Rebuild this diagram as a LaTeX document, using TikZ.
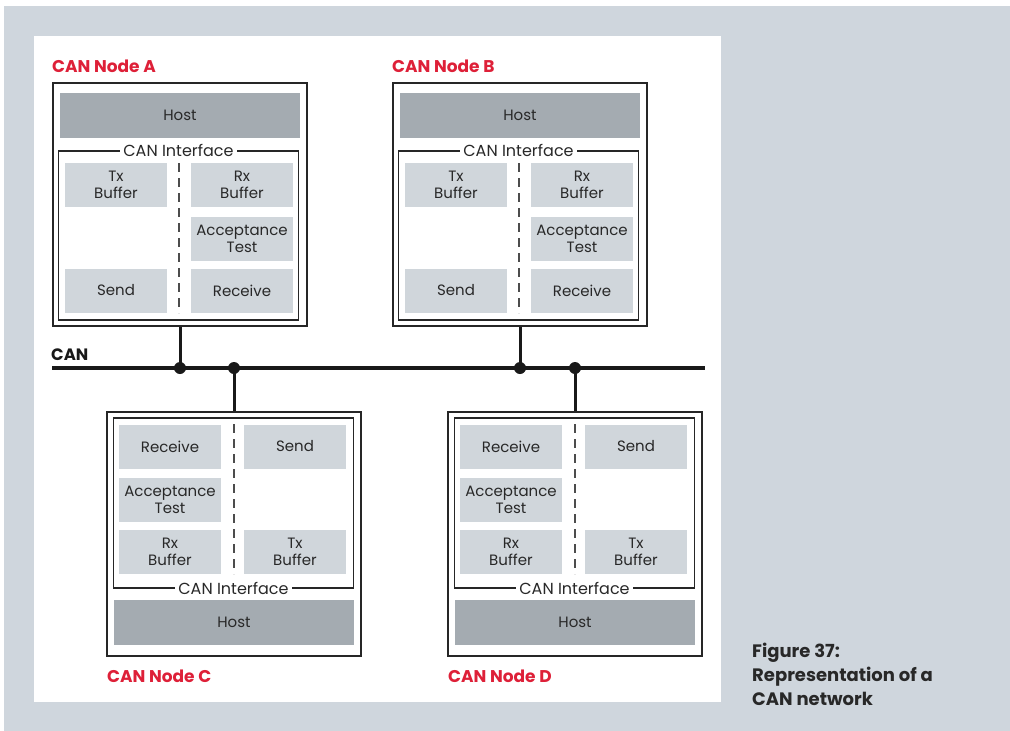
\documentclass[tikz,border=0pt]{standalone}
\usepackage{fontspec}
\setmainfont{Poppins}
\usetikzlibrary{positioning}
\definecolor{panelgray}{RGB}{207,214,221}
\definecolor{hostgray}{RGB}{164,171,177}
\definecolor{unitgray}{RGB}{208,214,219}
\definecolor{nodered}{RGB}{222,32,56}
\definecolor{inkgray}{RGB}{40,40,40}

\begin{document}
\begin{tikzpicture}[
    x=1pt, y=-1pt,
    font=\fontsize{15}{17}\selectfont, text=inkgray,
    outerbox/.style={draw=black!85, line width=1.8pt, fill=white, minimum width=254pt, minimum height=243pt, inner sep=0pt},
    ifacebox/.style={draw=black!85, line width=1.8pt, minimum width=240pt, minimum height=169pt, inner sep=0pt},
    hostblock/.style={fill=hostgray, minimum width=240pt, minimum height=45pt, inner sep=0pt},
    unit/.style={fill=unitgray, align=center, minimum width=102pt, minimum height=44pt, inner sep=0pt},
    iflabel/.style={fill=white, inner xsep=3pt, inner ysep=1pt, font=\fontsize{16}{18}\selectfont},
    nodetitle/.style={text=nodered, font=\bfseries\fontsize{17}{19}\selectfont, anchor=base west, inner sep=0pt},
    divider/.style={draw=black!70, line width=1.3pt, dash pattern=on 9pt off 6pt},
    bus/.style={draw=black!90, line width=3.5pt},
    stub/.style={draw=black!90, line width=3pt},
    tap/.style={circle, fill=black!90, inner sep=0pt, minimum size=12pt}
]
\useasboundingbox (0,0) rectangle (1010,731);
\fill[panelgray] (4,6) rectangle (1010,731);
\fill[white] (34,36) rectangle (721,702);

% CAN Node A
\node[nodetitle] (titleA) at (52,72) {CAN Node A};
\node[outerbox] (boxA) at (180,204.5) {};
\node[hostblock] (hostA) at (180,115.5) {Host};
\node[ifacebox] (ifA) at (178.5,235.5) {};
\node[iflabel] (iflA) at (ifA.north) {CAN Interface};
\node[unit] (txA) at (116,185) {Tx\\Buffer};
\node[unit] (rxA) at (242,185) {Rx\\Buffer};
\node[unit] (accA) at (242,238.5) {Acceptance\\Test};
\node[unit] (sendA) at (116,290.5) {Send};
\node[unit] (recvA) at (242,290.5) {Receive};
\draw[divider] (179,163) -- (179,313);

% CAN Node B
\node[nodetitle] (titleB) at (392,72) {CAN Node B};
\node[outerbox] (boxB) at (520,204.5) {};
\node[hostblock] (hostB) at (520,115.5) {Host};
\node[ifacebox] (ifB) at (518.5,235.5) {};
\node[iflabel] (iflB) at (ifB.north) {CAN Interface};
\node[unit] (txB) at (456,185) {Tx\\Buffer};
\node[unit] (rxB) at (582,185) {Rx\\Buffer};
\node[unit] (accB) at (582,238.5) {Acceptance\\Test};
\node[unit] (sendB) at (456,290.5) {Send};
\node[unit] (recvB) at (582,290.5) {Receive};
\draw[divider] (519,163) -- (519,313);

% CAN Node C
\node[outerbox, minimum height=244pt] (boxC) at (234,534) {};
\node[ifacebox, minimum height=170pt] (ifC) at (233.5,503) {};
\node[iflabel] (iflC) at (ifC.south) {CAN Interface};
\node[hostblock] (hostC) at (234,622.5) {Host};
\node[unit] (recvC) at (170,446.5) {Receive};
\node[unit] (sendC) at (295,446.5) {Send};
\node[unit] (accC) at (170,499.5) {Acceptance\\Test};
\node[unit] (rxC) at (170,552) {Rx\\Buffer};
\node[unit] (txC) at (295,552) {Tx\\Buffer};
\draw[divider] (234,424) -- (234,574);
\node[nodetitle] (titleC) at (107,682) {CAN Node C};

% CAN Node D
\node[outerbox, minimum height=244pt] (boxD) at (575,534) {};
\node[ifacebox, minimum height=170pt] (ifD) at (574.5,503) {};
\node[iflabel] (iflD) at (ifD.south) {CAN Interface};
\node[hostblock] (hostD) at (575,622.5) {Host};
\node[unit] (recvD) at (511,446.5) {Receive};
\node[unit] (sendD) at (636,446.5) {Send};
\node[unit] (accD) at (511,499.5) {Acceptance\\Test};
\node[unit] (rxD) at (511,552) {Rx\\Buffer};
\node[unit] (txD) at (636,552) {Tx\\Buffer};
\draw[divider] (575,424) -- (575,574);
\node[nodetitle] (titleD) at (448,682) {CAN Node D};

% bus
\node[font=\bfseries\fontsize{16.5}{18}\selectfont, text=black!90, anchor=base west, inner sep=0pt] (canlabel) at (51,360) {CAN};
\coordinate (busW) at (52,368);
\coordinate (busE) at (705,368);
\draw[bus] (busW) -- (busE);
\node[tap] (tapA) at (boxA.south |- busW) {};
\node[tap] (tapC) at (boxC.north |- busW) {};
\node[tap] (tapB) at (boxB.south |- busW) {};
\node[tap] (tapD) at (boxD.north |- busW) {};
\draw[stub] (boxA.south) -- (tapA.center);
\draw[stub] (tapC.center) -- (boxC.north);
\draw[stub] (boxB.south) -- (tapB.center);
\draw[stub] (tapD.center) -- (boxD.north);

\node[anchor=north west, align=left, inner sep=0pt, font=\bfseries\fontsize{18}{24}\selectfont] (caption) at (752,643) {Figure 37:\\Representation of a\\CAN network};
\end{tikzpicture}
\end{document}
